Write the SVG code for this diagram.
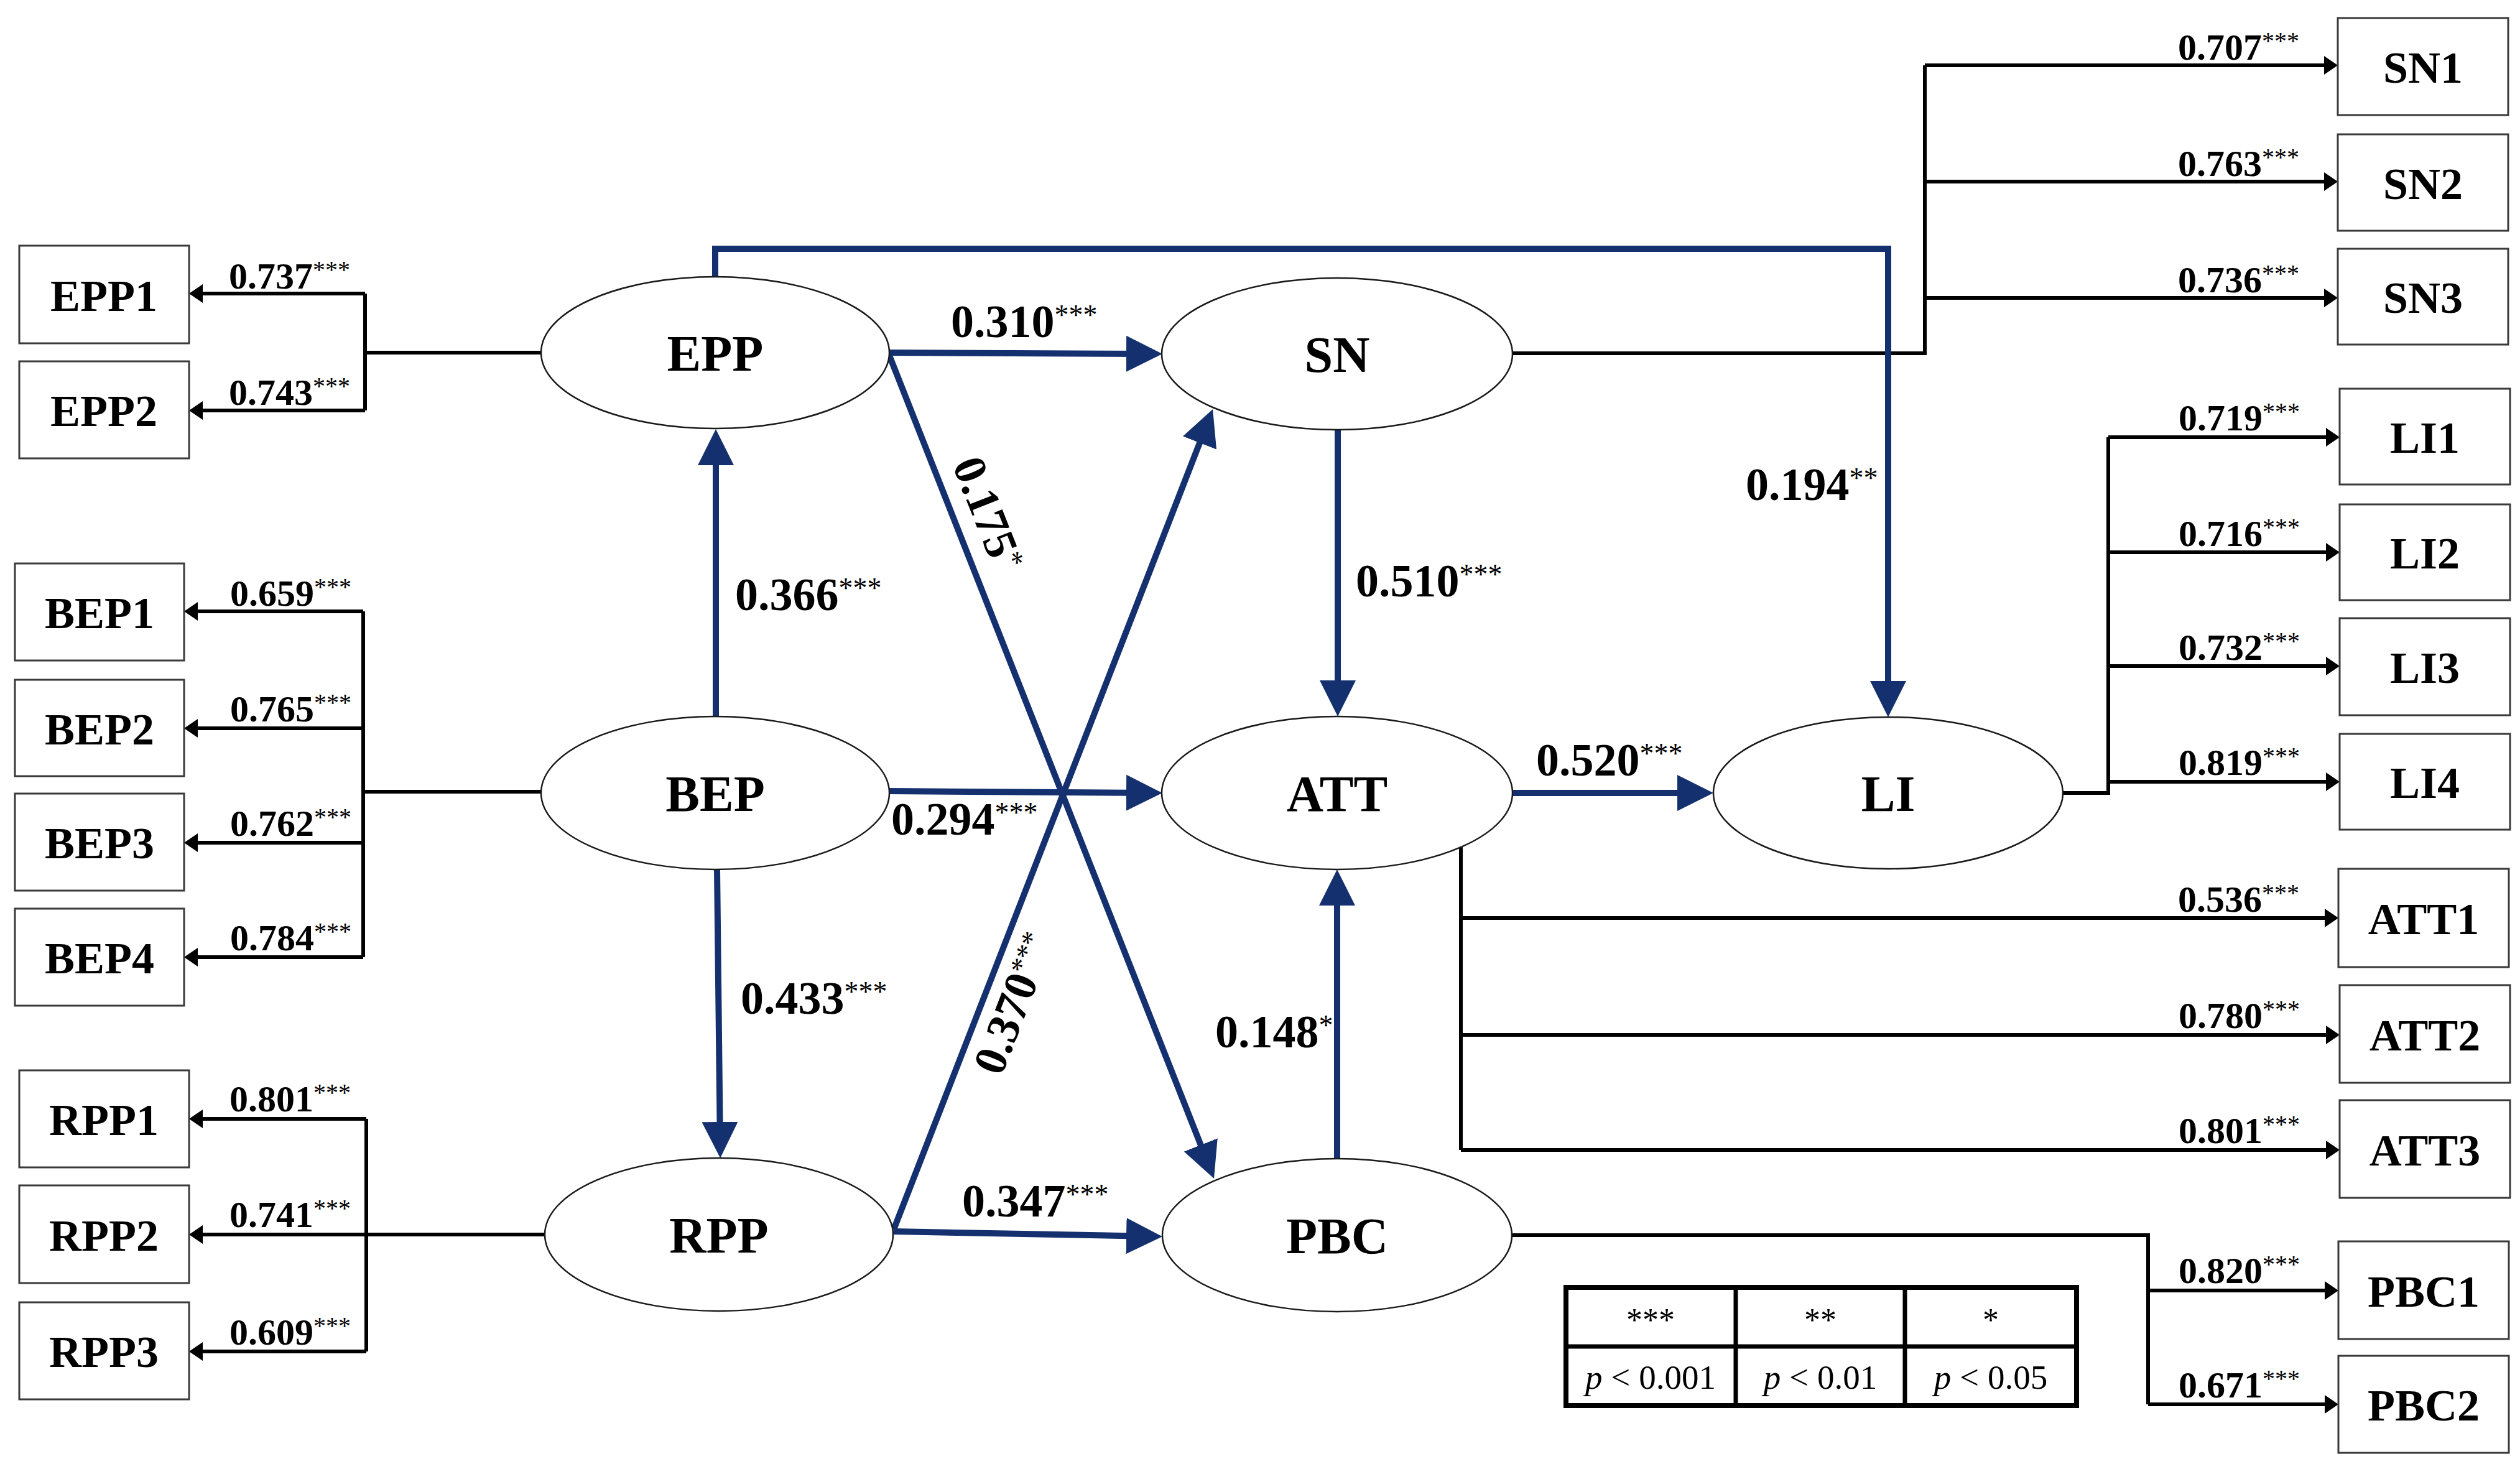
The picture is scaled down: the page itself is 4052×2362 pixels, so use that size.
<svg xmlns="http://www.w3.org/2000/svg" width="4052" height="2362" viewBox="0 0 4052 2362">
<style>
.box{fill:#fff;stroke:#3a3a3a;stroke-width:3}
.ell{fill:#fff;stroke:#1a1a1a;stroke-width:2.5}
.t{font-family:'Liberation Serif','Times New Roman',serif;font-weight:bold;fill:#000}
.bl{font-size:72px;text-anchor:middle}
.el{font-size:82px;text-anchor:middle}
.coef{font-size:74px}
.load{font-size:60px}
.sup{font-weight:normal}
.blk{stroke:#000;stroke-width:6;fill:none;marker-end:url(#ab)}
.ln{stroke:#000;stroke-width:6;fill:none}
.blue{stroke:#14306e;stroke-width:10;fill:none;marker-end:url(#au)}
.bluen{stroke:#14306e;stroke-width:10;fill:none}
.leg{font-family:'Liberation Serif','Times New Roman',serif;fill:#000;text-anchor:middle}
</style>
<defs>
<marker id="ab" markerUnits="userSpaceOnUse" markerWidth="22" markerHeight="30" refX="16" refY="15" orient="auto" viewBox="0 0 22 30"><path d="M0,0 L22,15 L0,30 z" fill="#000"/></marker>
<marker id="au" markerUnits="userSpaceOnUse" markerWidth="58" markerHeight="58" refX="43" refY="29" orient="auto" viewBox="0 0 58 58"><path d="M0,0 L58,29 L0,58 z" fill="#14306e"/></marker>
</defs>
<rect width="4052" height="2362" fill="#fff"/>
<g id="connectors">
<!-- left loadings -->
<path class="ln" d="M870,567 H587 M587,472 V660"/>
<path class="blk" d="M587,472 H310"/>
<path class="blk" d="M587,660 H310"/>
<path class="ln" d="M870,1273 H584 M584,983 V1539"/>
<path class="blk" d="M584,983 H302"/>
<path class="blk" d="M584,1171 H302"/>
<path class="blk" d="M584,1355 H302"/>
<path class="blk" d="M584,1539 H302"/>
<path class="ln" d="M589,1799 V2173"/>
<path class="blk" d="M589,1799 H310"/>
<path class="blk" d="M875,1985 H310"/>
<path class="blk" d="M589,2173 H310"/>
<!-- right loadings -->
<path class="ln" d="M2432,568 H3095 V105"/>
<path class="blk" d="M3095,105 H3753"/>
<path class="blk" d="M3095,292 H3753"/>
<path class="blk" d="M3095,479 H3753"/>
<path class="ln" d="M3317,1275 H3390 V703"/>
<path class="blk" d="M3390,703 H3756"/>
<path class="blk" d="M3390,888 H3756"/>
<path class="blk" d="M3390,1071 H3756"/>
<path class="blk" d="M3390,1257 H3756"/>
<path class="ln" d="M2349,1355 V1849"/>
<path class="blk" d="M2349,1476 H3754"/>
<path class="blk" d="M2349,1664 H3756"/>
<path class="blk" d="M2349,1849 H3756"/>
<path class="ln" d="M2431,1986 H3454 V2258"/>
<path class="blk" d="M3454,2075 H3754"/>
<path class="blk" d="M3454,2258 H3754"/>
<!-- structural paths -->
<path class="blue" d="M1430,567 L1854,569"/>
<path class="blue" d="M1430,1272 L1854,1275"/>
<path class="blue" d="M1437,1980 L1854,1988"/>
<path class="blue" d="M2432,1275 L2740,1275"/>
<path class="blue" d="M2151,691 L2151,1137"/>
<path class="blue" d="M2150,1863 L2150,1413"/>
<path class="blue" d="M1151,1152 L1151,705"/>
<path class="blue" d="M1153,1398 L1158,1847"/>
<path class="blue" d="M1150,445 V400 H3036 V1138"/>
<path class="blue" d="M1429,569 L1946.5,1881"/>
<path class="blue" d="M1437,1977 L1944.6,672"/>
<!-- coefficient labels -->
<text class="t coef" x="1182" y="981">0.366<tspan class="sup" font-size="46" dy="-20">***</tspan></text>
<text class="t coef" x="1191" y="1630">0.433<tspan class="sup" font-size="46" dy="-20">***</tspan></text>
<text class="t coef" x="1529" y="542">0.310<tspan class="sup" font-size="46" dy="-20">***</tspan></text>
<text class="t coef" x="2180" y="959">0.510<tspan class="sup" font-size="46" dy="-20">***</tspan></text>
<text class="t coef" x="1433" y="1342">0.294<tspan class="sup" font-size="46" dy="-20">***</tspan></text>
<text class="t coef" x="2470" y="1247">0.520<tspan class="sup" font-size="46" dy="-20">***</tspan></text>
<text class="t coef" x="2807" y="804">0.194<tspan class="sup" font-size="46" dy="-20">**</tspan></text>
<text class="t coef" x="1547" y="1956">0.347<tspan class="sup" font-size="46" dy="-20">***</tspan></text>
<text class="t coef" x="1954" y="1684">0.148<tspan class="sup" font-size="46" dy="-20">*</tspan></text>
<text class="t coef" transform="translate(1531,747) rotate(68.4)" x="0" y="0">0.175<tspan class="sup" font-size="46" dy="-20">*</tspan></text>
<text class="t coef" transform="translate(1610,1732) rotate(-68.8)" x="0" y="0">0.370<tspan class="sup" font-size="46" dy="-20">***</tspan></text>
<!-- loading labels left -->
<text class="t load" x="368" y="464">0.737<tspan class="sup" font-size="40" dy="-17">***</tspan></text>
<text class="t load" x="368" y="651">0.743<tspan class="sup" font-size="40" dy="-17">***</tspan></text>
<text class="t load" x="370" y="974">0.659<tspan class="sup" font-size="40" dy="-17">***</tspan></text>
<text class="t load" x="370" y="1160">0.765<tspan class="sup" font-size="40" dy="-17">***</tspan></text>
<text class="t load" x="370" y="1344">0.762<tspan class="sup" font-size="40" dy="-17">***</tspan></text>
<text class="t load" x="370" y="1528">0.784<tspan class="sup" font-size="40" dy="-17">***</tspan></text>
<text class="t load" x="369" y="1787">0.801<tspan class="sup" font-size="40" dy="-17">***</tspan></text>
<text class="t load" x="369" y="1973">0.741<tspan class="sup" font-size="40" dy="-17">***</tspan></text>
<text class="t load" x="369" y="2162">0.609<tspan class="sup" font-size="40" dy="-17">***</tspan></text>
<!-- loading labels right -->
<text class="t load" x="3502" y="96">0.707<tspan class="sup" font-size="40" dy="-17">***</tspan></text>
<text class="t load" x="3502" y="283">0.763<tspan class="sup" font-size="40" dy="-17">***</tspan></text>
<text class="t load" x="3502" y="470">0.736<tspan class="sup" font-size="40" dy="-17">***</tspan></text>
<text class="t load" x="3503" y="692">0.719<tspan class="sup" font-size="40" dy="-17">***</tspan></text>
<text class="t load" x="3503" y="878">0.716<tspan class="sup" font-size="40" dy="-17">***</tspan></text>
<text class="t load" x="3503" y="1061">0.732<tspan class="sup" font-size="40" dy="-17">***</tspan></text>
<text class="t load" x="3503" y="1246">0.819<tspan class="sup" font-size="40" dy="-17">***</tspan></text>
<text class="t load" x="3502" y="1466">0.536<tspan class="sup" font-size="40" dy="-17">***</tspan></text>
<text class="t load" x="3503" y="1653">0.780<tspan class="sup" font-size="40" dy="-17">***</tspan></text>
<text class="t load" x="3503" y="1838">0.801<tspan class="sup" font-size="40" dy="-17">***</tspan></text>
<text class="t load" x="3503" y="2063">0.820<tspan class="sup" font-size="40" dy="-17">***</tspan></text>
<text class="t load" x="3503" y="2247">0.671<tspan class="sup" font-size="40" dy="-17">***</tspan></text>
</g>
<!-- latent variables -->
<g id="EPP"><ellipse class="ell" cx="1150" cy="567" rx="280" ry="122"/><text class="t el" x="1150" y="596">EPP</text></g>
<g id="BEP"><ellipse class="ell" cx="1150" cy="1275" rx="280" ry="123"/><text class="t el" x="1150" y="1304">BEP</text></g>
<g id="RPP"><ellipse class="ell" cx="1156" cy="1985" rx="280" ry="123"/><text class="t el" x="1156" y="2014">RPP</text></g>
<g id="SN"><ellipse class="ell" cx="2150" cy="569" rx="282" ry="122"/><text class="t el" x="2150" y="598">SN</text></g>
<g id="ATT"><ellipse class="ell" cx="2150" cy="1275" rx="282" ry="123"/><text class="t el" x="2150" y="1304">ATT</text></g>
<g id="PBC"><ellipse class="ell" cx="2150" cy="1986" rx="281" ry="123"/><text class="t el" x="2150" y="2015">PBC</text></g>
<g id="LI"><ellipse class="ell" cx="3036" cy="1275" rx="281" ry="122"/><text class="t el" x="3036" y="1304">LI</text></g>
<!-- indicators -->
<g id="EPP1"><rect class="box" x="31" y="395" width="273" height="157"/><text class="t bl" x="167" y="500">EPP1</text></g>
<g id="EPP2"><rect class="box" x="31" y="581" width="273" height="156"/><text class="t bl" x="167" y="685">EPP2</text></g>
<g id="BEP1"><rect class="box" x="24" y="906" width="272" height="156"/><text class="t bl" x="160" y="1010">BEP1</text></g>
<g id="BEP2"><rect class="box" x="24" y="1093" width="272" height="155"/><text class="t bl" x="160" y="1197">BEP2</text></g>
<g id="BEP3"><rect class="box" x="24" y="1276" width="272" height="156"/><text class="t bl" x="160" y="1380">BEP3</text></g>
<g id="BEP4"><rect class="box" x="24" y="1461" width="272" height="156"/><text class="t bl" x="160" y="1565">BEP4</text></g>
<g id="RPP1"><rect class="box" x="31" y="1721" width="273" height="156"/><text class="t bl" x="167" y="1825">RPP1</text></g>
<g id="RPP2"><rect class="box" x="31" y="1906" width="273" height="157"/><text class="t bl" x="167" y="2011">RPP2</text></g>
<g id="RPP3"><rect class="box" x="31" y="2094" width="273" height="156"/><text class="t bl" x="167" y="2198">RPP3</text></g>
<g id="SN1"><rect class="box" x="3759" y="29" width="274" height="156"/><text class="t bl" x="3896" y="133">SN1</text></g>
<g id="SN2"><rect class="box" x="3759" y="216" width="274" height="155"/><text class="t bl" x="3896" y="320">SN2</text></g>
<g id="SN3"><rect class="box" x="3759" y="400" width="274" height="154"/><text class="t bl" x="3896" y="503">SN3</text></g>
<g id="LI1"><rect class="box" x="3762" y="625" width="274" height="154"/><text class="t bl" x="3899" y="728">LI1</text></g>
<g id="LI2"><rect class="box" x="3762" y="811" width="274" height="154"/><text class="t bl" x="3899" y="914">LI2</text></g>
<g id="LI3"><rect class="box" x="3762" y="994" width="274" height="156"/><text class="t bl" x="3899" y="1098">LI3</text></g>
<g id="LI4"><rect class="box" x="3762" y="1180" width="274" height="154"/><text class="t bl" x="3899" y="1283">LI4</text></g>
<g id="ATT1"><rect class="box" x="3760" y="1397" width="274" height="158"/><text class="t bl" x="3897" y="1502">ATT1</text></g>
<g id="ATT2"><rect class="box" x="3762" y="1584" width="274" height="157"/><text class="t bl" x="3899" y="1689">ATT2</text></g>
<g id="ATT3"><rect class="box" x="3762" y="1769" width="274" height="157"/><text class="t bl" x="3899" y="1874">ATT3</text></g>
<g id="PBC1"><rect class="box" x="3760" y="1996" width="274" height="157"/><text class="t bl" x="3897" y="2101">PBC1</text></g>
<g id="PBC2"><rect class="box" x="3760" y="2180" width="274" height="156"/><text class="t bl" x="3897" y="2284">PBC2</text></g>
<!-- legend -->
<g id="legend">
<rect x="2518" y="2070" width="821" height="190" fill="#fff" stroke="#000" stroke-width="8"/>
<path d="M2791,2070 V2260 M3063,2070 V2260 M2518,2165 H3339" stroke="#000" stroke-width="7" fill="none"/>
<text class="leg" font-size="52" x="2654" y="2140">***</text>
<text class="leg" font-size="52" x="2927" y="2140">**</text>
<text class="leg" font-size="52" x="3201" y="2140">*</text>
<text class="leg" font-size="55" x="2654" y="2233"><tspan font-style="italic">p</tspan> &lt; 0.001</text>
<text class="leg" font-size="55" x="2927" y="2233"><tspan font-style="italic">p</tspan> &lt; 0.01</text>
<text class="leg" font-size="55" x="3201" y="2233"><tspan font-style="italic">p</tspan> &lt; 0.05</text>
</g>
</svg>
